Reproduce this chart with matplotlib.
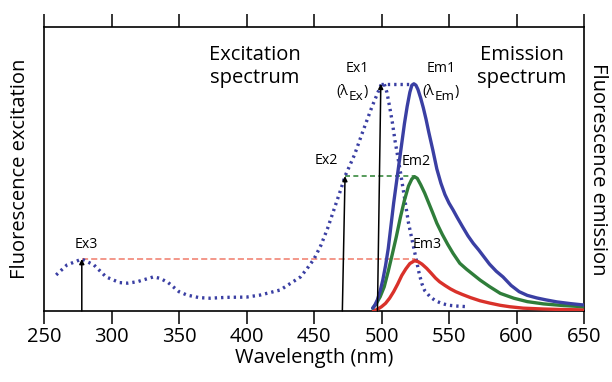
import matplotlib
matplotlib.use("Agg")
import matplotlib.pyplot as plt

plt.rcParams['font.family'] = ['Open Sans', 'DejaVu Sans']

# ---- data ----
ex_x = [259, 267, 278, 287, 296, 306, 312, 319, 331, 336, 342, 350, 356, 365, 373,
        385, 400, 410, 425, 440, 445, 450, 455, 460, 465, 470, 473, 480, 486, 493,
        500, 502, 504, 506, 508, 510, 512, 514, 516, 518, 520, 522, 524, 526, 528,
        530, 532, 536, 540, 545, 550, 557, 564]
ex_y = [0.127, 0.162, 0.183, 0.162, 0.12, 0.10, 0.098, 0.103, 0.12, 0.115, 0.10, 0.068,
        0.056, 0.047, 0.045, 0.048, 0.049, 0.056, 0.074, 0.12, 0.15, 0.183, 0.23, 0.29,
        0.36, 0.43, 0.475, 0.55, 0.63, 0.72, 0.80, 0.80, 0.77, 0.72, 0.665, 0.60, 0.545,
        0.49, 0.43, 0.37, 0.31, 0.265, 0.22, 0.175, 0.13, 0.095, 0.072, 0.05, 0.036,
        0.026, 0.02, 0.017, 0.015]

em1_x = [493.5, 495, 497, 499, 501, 503, 505, 507, 509, 511, 513, 515, 517, 519, 521,
         522.5, 524, 525.5, 527, 529, 531, 533, 535, 538, 541, 544, 547, 550, 553, 556,
         560, 564, 568, 572, 576, 580, 585, 590, 596, 602, 608, 615, 622, 630, 640, 650]
em1_y = [0.01, 0.02, 0.04, 0.07, 0.11, 0.16, 0.22, 0.30, 0.38, 0.45, 0.52, 0.59, 0.66,
         0.72, 0.77, 0.795, 0.80, 0.795, 0.78, 0.75, 0.715, 0.675, 0.63, 0.567, 0.50,
         0.45, 0.41, 0.38, 0.356, 0.33, 0.297, 0.265, 0.238, 0.215, 0.19, 0.165, 0.14,
         0.12, 0.09, 0.068, 0.055, 0.046, 0.039, 0.032, 0.026, 0.021]

em2_x = [493.5, 496, 499, 502, 505, 508, 511, 514, 517, 520, 522.5, 524.5, 526.5, 529,
         532, 535, 538, 541, 545, 549, 553, 558, 563, 568, 573, 580, 588, 598, 608, 620,
         635, 650]
em2_y = [0.01, 0.025, 0.05, 0.085, 0.14, 0.20, 0.262, 0.33, 0.39, 0.44, 0.465, 0.473,
         0.467, 0.445, 0.415, 0.38, 0.345, 0.309, 0.27, 0.235, 0.203, 0.168, 0.147,
         0.128, 0.109, 0.086, 0.062, 0.045, 0.033, 0.025, 0.019, 0.015]

em3_x = [494, 497, 500, 503, 506, 509, 512, 515, 518, 521, 524.5, 527, 530, 533.5, 537,
         540, 543, 547, 551, 555, 560, 566, 573, 580, 588, 595, 605, 620, 635, 650]
em3_y = [0.0, 0.006, 0.015, 0.027, 0.045, 0.068, 0.095, 0.125, 0.148, 0.167, 0.177,
         0.174, 0.165, 0.15, 0.132, 0.116, 0.103, 0.09, 0.078, 0.068, 0.058, 0.047,
         0.036, 0.028, 0.02, 0.015, 0.01, 0.007, 0.005, 0.004]

# excitation wavelengths (arrow bottom, arrow top), levels, emission peaks
ex_base = [497, 471, 278]
ex_top = [499.5, 473, 278]
ex_level = [0.80, 0.475, 0.183]
em_peak = [523, 524.5, 524.5]

xticks = [250, 300, 350, 400, 450, 500, 550, 600, 650]

BLUE = '#3a3fa3'
GREEN = '#2f7d3a'
RED = '#d9312a'

fig = plt.figure(figsize=(6.12, 3.82), dpi=100)
ax = fig.add_axes([44/612, 71/382, 540/612, 284/382])

ax.set_xlim(250, 650)
ax.set_ylim(0, 1)

# connectors
ax.plot([ex_top[2], em_peak[2]], [ex_level[2]]*2, color='#f07a6a', lw=1.1,
        ls=(0, (4, 2)), zorder=2)
ax.plot([ex_top[1], em_peak[1]], [ex_level[1]]*2, color='#3a8a40', lw=1.2,
        ls=(0, (3, 2)), zorder=2)
ax.plot([ex_top[0], em_peak[0]], [ex_level[0]]*2, color=BLUE, lw=2.4,
        ls=(0, (0.7, 1.2)), zorder=3)

# emission curves
ax.plot(em3_x, em3_y, color=RED, lw=2.4, zorder=4, solid_capstyle='round',
        solid_joinstyle='round')
ax.plot(em2_x, em2_y, color=GREEN, lw=2.4, zorder=4, solid_capstyle='round',
        solid_joinstyle='round')
ax.plot(em1_x, em1_y, color=BLUE, lw=2.4, zorder=4, solid_capstyle='round',
        solid_joinstyle='round')

# excitation (dotted)
ax.plot(ex_x, ex_y, color=BLUE, lw=2.4, ls=(0, (0.7, 1.2)), zorder=3)

# arrows
for b, t, lv in zip(ex_base, ex_top, ex_level):
    ax.annotate('', xy=(t, lv), xytext=(b, 0),
                arrowprops=dict(arrowstyle='-|>', color='black', lw=1.1,
                                mutation_scale=7, shrinkA=0, shrinkB=0),
                zorder=5)

# small labels
fs_small = 10.2
ax.text(281.5, 0.207, "Ex3", fontsize=fs_small, ha='center', va='bottom')
ax.text(459, 0.505, "Ex2", fontsize=fs_small, ha='center', va='bottom')
ax.text(482, 0.826, "Ex1", fontsize=fs_small, ha='center', va='bottom')
ax.text(544.5, 0.826, "Em1", fontsize=fs_small, ha='center', va='bottom')
ax.text(526, 0.50, "Em2", fontsize=fs_small, ha='center', va='bottom')
ax.text(533.5, 0.207, "Em3", fontsize=fs_small, ha='center', va='bottom')


def lam_label(x, y, sub):
    t1 = ax.text(x, y, "(λ", fontsize=fs_small, ha='left', va='baseline')
    t2 = ax.annotate(sub, xy=(1, 0), xycoords=t1, xytext=(0.3, -2.5),
                     textcoords='offset points', fontsize=fs_small * 0.95,
                     ha='left', va='bottom')
    ax.annotate(")", xy=(1, 0), xycoords=t2, xytext=(0.3, 2.5),
                textcoords='offset points', fontsize=fs_small,
                ha='left', va='bottom')


lam_label(466.5, 0.76, "Ex")
lam_label(530, 0.76, "Em")

# big labels
fs = 14.5
ax.text(406, 0.935, "Excitation\nspectrum", fontsize=fs, ha='center', va='top',
        linespacing=1.2)
ax.text(604, 0.935, "Emission\nspectrum", fontsize=fs, ha='center', va='top',
        linespacing=1.2)

# axes styling
for s in ax.spines.values():
    s.set_linewidth(1.2)
ax.set_xticks(xticks)
ax.set_xticklabels([str(v) for v in xticks])
ax.set_yticks([])
ax.tick_params(axis='x', which='both', direction='out', length=9.5, width=1.1,
               labelsize=fs, pad=2, top=True, labeltop=False)
ax.set_xlabel("Wavelength (nm)", fontsize=fs, labelpad=1)
ax.set_ylabel("Fluorescence excitation", fontsize=fs, labelpad=10)
ax.text(1.026, 0.5, "Fluorescence emission", fontsize=fs, rotation=270,
        ha='center', va='center', transform=ax.transAxes)

fig.savefig("out.png", dpi=100)
